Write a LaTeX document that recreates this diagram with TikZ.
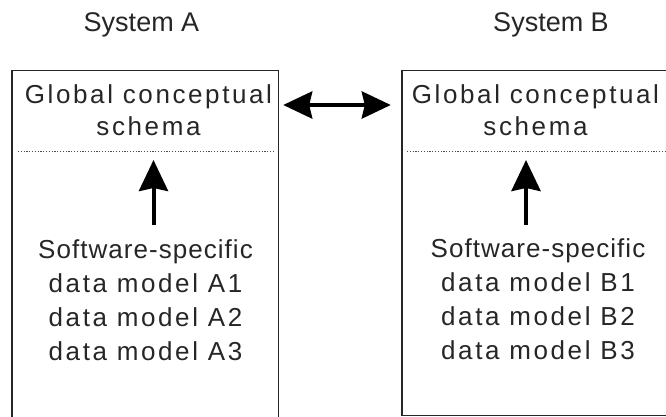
\documentclass[tikz,border=0pt]{standalone}
\usepackage{fontspec}
\setmainfont{Liberation Sans}
\newfontfamily\bodyf[LetterSpace=10]{Liberation Sans}
\newfontfamily\swf[LetterSpace=4]{Liberation Sans}
\usetikzlibrary{arrows.meta}
\tikzset{
  boxnode/.style={rectangle, draw=none, inner sep=0pt},
  boxline/.style={draw=black!85, line width=1.4pt},
  sepline/.style={draw=black!70, line width=0.9pt, dash pattern=on 1.2pt off 1.6pt},
  titletxt/.style={inner sep=0pt, anchor=base, text=black!85, font=\fontsize{27}{30}\selectfont},
  uppertxt/.style={inner sep=0pt, anchor=north, align=center, text=black!85, font=\bodyf\fontsize{26}{32}\selectfont},
  lowertxt/.style={inner sep=0pt, anchor=north, align=center, text=black!85, font=\bodyf\fontsize{26}{34.3}\selectfont},
  dblarrow/.style={line width=4pt, {Stealth[length=29pt,width=27pt,inset=3pt]}-{Stealth[length=29pt,width=27pt,inset=3pt]}},
  uparrow/.style={line width=4pt, -{Stealth[length=31pt,width=29pt,inset=3pt]}},
}
\begin{document}
\begin{tikzpicture}[x=1pt, y=-1pt]
\useasboundingbox (0,0) rectangle (666,417);
% boxes
\node[boxnode, minimum width=266pt, minimum height=349pt] (boxA) at (145,245.5) {};
\node[boxnode, minimum width=268pt, minimum height=344pt] (boxB) at (536,243) {};
\draw[boxline] (boxA.south west) -- (boxA.north west) -- (boxA.north east) -- (boxA.south east);
\draw[boxline] (boxB.north east) -- (boxB.north west) -- (boxB.south west) -- (boxB.south east);
% titles
\node[titletxt] (titleA) at (141.5,32) {System A};
\node[titletxt] (titleB) at (551,32) {System B};
% upper texts
\node[uppertxt] (gcsA) at (148.5,84) {Global conceptual\\schema};
\node[uppertxt] (gcsB) at (535.5,84) {Global conceptual\\schema};
% separators
\coordinate (sepAl) at (18,151);
\coordinate (sepAr) at (275,151);
\coordinate (sepBl) at (407,151);
\coordinate (sepBr) at (666,151);
\draw[sepline] (sepAl) -- (sepAr);
\draw[sepline] (sepBl) -- (sepBr);
% lower texts
\node[lowertxt] (swA) at (145.5,239) {{\swf Software-specific}\\data model A1\\data model A2\\data model A3};
\node[lowertxt] (swB) at (538,238) {{\swf Software-specific}\\data model B1\\data model B2\\data model B3};
% arrows
\coordinate (tipA) at (153.5,160);
\coordinate (tailA) at (153.5,225);
\coordinate (tipB) at (526,160);
\coordinate (tailB) at (526,225);
\draw[uparrow] (tailA) -- (tipA);
\draw[uparrow] (tailB) -- (tipB);
\draw[dblarrow] ([xshift=5pt]boxA.east |- 0,105) -- ([xshift=-11pt]boxB.west |- 0,105);
\end{tikzpicture}
\end{document}
